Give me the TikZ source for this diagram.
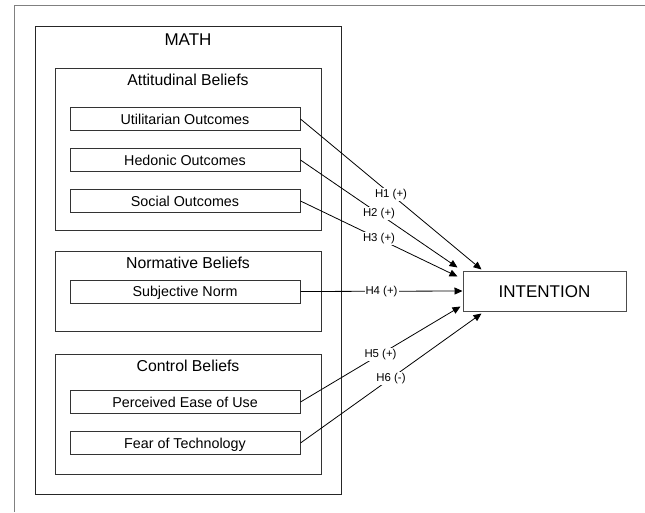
\documentclass[tikz,border=0pt]{standalone}
\usepackage{fontspec}
\setmainfont{Liberation Sans}
\usetikzlibrary{arrows.meta,positioning}

\begin{document}
\begin{tikzpicture}[x=1pt,y=-1pt,>={Triangle[length=8pt,width=7pt]},line width=0.8pt,node distance=17pt]
\tikzset{
  group/.style={draw=black!80,line width=1pt,minimum width=266pt,inner sep=0pt},
  grouptitle/.style={font=\fontsize{15.8}{18}\selectfont,inner sep=0pt},
  factor/.style={draw=black!80,line width=1pt,minimum width=230pt,minimum height=23pt,inner sep=0pt,
    text height=10.2pt,text depth=0pt,font=\fontsize{14.3}{16}\selectfont},
  hyp/.style={fill=white,inner sep=1pt,font=\fontsize{11.4}{13}\selectfont}
}
\useasboundingbox (0,0) rectangle (645,512);
\draw[black!50,line width=1.3pt] (14.5,512) -- (14.5,5.5) -- (645,5.5);

\node[draw=black!85,line width=1pt,minimum width=306pt,minimum height=468pt,inner sep=0pt] (math) at (188,260) {};
\node[font=\fontsize{17}{20}\selectfont,inner sep=0pt,below=8pt of math.north] (mathtitle) {MATH};

\node[group,minimum height=162pt] (att) at (188,149) {};
\node[grouptitle,below=6pt of att.north] (atttitle) {Attitudinal Beliefs};
\node[group,minimum height=80pt] (norm) at (188,291) {};
\node[grouptitle,below=6pt of norm.north] (normtitle) {Normative Beliefs};
\node[group,minimum height=120pt] (ctrl) at (188,414) {};
\node[grouptitle,below=6pt of ctrl.north] (ctrltitle) {Control Beliefs};

\node[factor] (util) at (185,119) {Utilitarian Outcomes};
\node[factor,below=of util] (hed) {Hedonic Outcomes};
\node[factor,below=of hed] (soc) {Social Outcomes};
\node[factor] (subj) at (185,291.5) {Subjective Norm};
\node[factor] (peou) at (185,402) {Perceived Ease of Use};
\node[factor,below=of peou] (fear) {Fear of Technology};

\node[draw=black!70,line width=1pt,minimum width=163pt,minimum height=40pt,inner sep=0pt,
  text height=12.2pt,text depth=0pt,font=\fontsize{17}{20}\selectfont] (int) at (544.5,291) {INTENTION};

\coordinate (i1) at ([xshift=19pt,yshift=1pt]int.north west);
\coordinate (i2) at ([xshift=-5pt,yshift=3pt]int.north west);
\coordinate (i3) at ([xshift=-5pt,yshift=-6pt]int.north west);
\coordinate (i5) at ([xshift=-2pt,yshift=5pt]int.south west);
\coordinate (i6) at ([xshift=19pt,yshift=-2pt]int.south west);

\path[->]
(util.east) edge node[hyp] {H1 (+)} (i1)
(hed.east) edge node[hyp] {H2 (+)} (i2)
(soc.east) edge node[hyp] {H3 (+)} (i3)
(subj.east) edge node[hyp] {H4 (+)} (int.west)
(peou.east) edge node[hyp] {H5 (+)} (i5)
(fear.east) edge node[hyp] {H6 (-)} (i6)
;
\end{tikzpicture}
\end{document}
